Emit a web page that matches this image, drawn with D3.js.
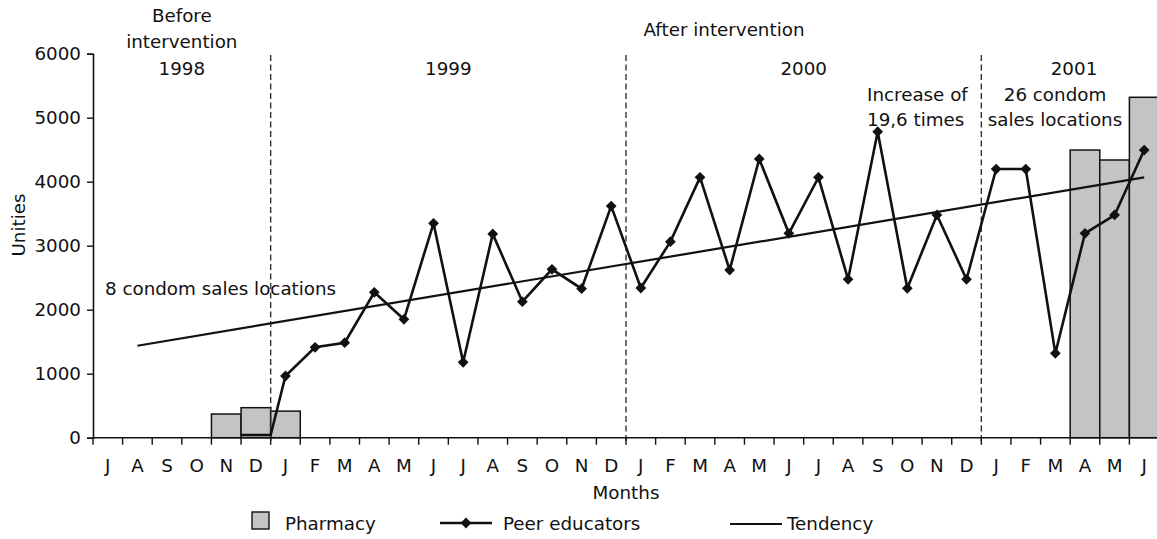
<!DOCTYPE html>
<html>
<head>
<meta charset="utf-8">
<script src="https://cdn.jsdelivr.net/npm/d3@7"></script>
<style>
  body { margin: 0; background: #fff; }
  svg { display: block; font-family: "DejaVu Sans", sans-serif; }
  text { fill: #111; }
</style>
</head>
<body>
<svg id="plot" width="1157" height="539"></svg>
<script>
// month keys and the letters shown under the axis
const monthKeys = [
  "1998-07","1998-08","1998-09","1998-10","1998-11","1998-12",
  "1999-01","1999-02","1999-03","1999-04","1999-05","1999-06",
  "1999-07","1999-08","1999-09","1999-10","1999-11","1999-12",
  "2000-01","2000-02","2000-03","2000-04","2000-05","2000-06",
  "2000-07","2000-08","2000-09","2000-10","2000-11","2000-12",
  "2001-01","2001-02","2001-03","2001-04","2001-05","2001-06"
];
const monthLabels = [
  "J","A","S","O","N","D",
  "J","F","M","A","M","J","J","A","S","O","N","D",
  "J","F","M","A","M","J","J","A","S","O","N","D",
  "J","F","M","A","M","J"
];

// Pharmacy bars
const pharmacyMonths = ["1998-11","1998-12","1999-01","2001-04","2001-05","2001-06"];
const pharmacyValues = [370, 469, 415, 4495, 4339, 5319];

// Peer educators line
const peerMonths = monthKeys.slice(5);
const peerValues = [
  42,
  964, 1412, 1484, 2272, 1850, 3350, 1178, 3183, 2125, 2631, 2328, 3620,
  2339, 3063, 4068, 2620, 4355, 3193, 4068, 2474, 4781, 2334, 3480, 2474,
  4198, 4198, 1318, 3193, 3480, 4495
];

// Tendency line end points
const trendMonths = ["1998-08", "2001-06"];
const trendValues = [1437, 4068];

// year boundaries (dashed lines after these months)
const dividerMonths = ["1998-12", "1999-12", "2000-12"];
const yTicks = [0, 1000, 2000, 3000, 4000, 5000, 6000];

const FONT = "DejaVu Sans";
const FS = 18.3;

const svg = d3.select("#plot");
const plotLeft = 93, plotRight = 1159, plotTop = 53.7, plotBottom = 437.7;

const x = d3.scaleBand().domain(monthKeys).range([plotLeft, plotRight]).padding(0);
const y = d3.scaleLinear().domain([0, 6000]).range([plotBottom, plotTop]);
const cx = m => x(m) + x.bandwidth() / 2;

// bars
svg.append("g").selectAll("rect")
  .data(pharmacyMonths.map((m, i) => ({ m: m, v: pharmacyValues[i] })))
  .enter().append("rect")
  .attr("x", d => x(d.m))
  .attr("width", x.bandwidth())
  .attr("y", d => y(d.v))
  .attr("height", d => y(0) - y(d.v))
  .attr("fill", "#c4c4c4")
  .attr("stroke", "#111")
  .attr("stroke-width", 1.5);

// dashed year separators
svg.append("g").selectAll("line")
  .data(dividerMonths)
  .enter().append("line")
  .attr("x1", d => x(d) + x.bandwidth())
  .attr("x2", d => x(d) + x.bandwidth())
  .attr("y1", 55)
  .attr("y2", plotBottom + 7)
  .attr("stroke", "#333")
  .attr("stroke-width", 1.4)
  .attr("stroke-dasharray", "6,3.5");

// axes
const yAxis = svg.append("g")
  .attr("transform", "translate(" + plotLeft + ",0)")
  .call(d3.axisLeft(y).tickValues(yTicks).tickSize(6).tickPadding(6).tickFormat(d3.format("d")));
const xAxis = svg.append("g")
  .attr("transform", "translate(0," + plotBottom + ")")
  .call(d3.axisBottom(x).tickSize(0).tickPadding(21).tickFormat((d, i) => monthLabels[i]));
svg.selectAll(".domain").attr("stroke", "#111").attr("stroke-width", 1.6);
yAxis.selectAll(".tick line").attr("stroke", "#111").attr("stroke-width", 1.4);
yAxis.selectAll("text").attr("font-size", FS).attr("font-family", FONT).attr("fill", "#111");
xAxis.selectAll("text").attr("font-size", FS).attr("font-family", FONT).attr("fill", "#111");
xAxis.select(".domain").attr("d", "M" + plotLeft + ",0H" + plotRight);

// month boundary ticks
svg.append("g").selectAll("line")
  .data(monthKeys)
  .enter().append("line")
  .attr("x1", d => x(d))
  .attr("x2", d => x(d))
  .attr("y1", plotBottom)
  .attr("y2", plotBottom + 7)
  .attr("stroke", "#111")
  .attr("stroke-width", 1.4);

// tendency line
svg.append("path")
  .datum(trendMonths.map((m, i) => [cx(m), y(trendValues[i])]))
  .attr("d", d3.line())
  .attr("fill", "none")
  .attr("stroke", "#111")
  .attr("stroke-width", 2.2);

// peer educators line: the first month sits flat across its band
const peerPts = [];
peerMonths.forEach((m, i) => {
  if (i === 0) {
    peerPts.push([x(m), y(peerValues[i])]);
    peerPts.push([x(m) + x.bandwidth(), y(peerValues[i])]);
  } else {
    peerPts.push([cx(m), y(peerValues[i])]);
  }
});
svg.append("path")
  .datum(peerPts)
  .attr("d", d3.line())
  .attr("fill", "none")
  .attr("stroke", "#111")
  .attr("stroke-width", 2.6)
  .attr("stroke-linejoin", "miter");

const diamond = d3.symbol().type(d3.symbolSquare).size(58);
svg.append("g").selectAll("path")
  .data(peerMonths.slice(1).map((m, i) => ({ m: m, v: peerValues[i + 1] })))
  .enter().append("path")
  .attr("d", diamond)
  .attr("transform", d => "translate(" + cx(d.m) + "," + y(d.v) + ") rotate(45)")
  .attr("fill", "#111");

// text annotations
function label(txt, tx, ty, anchor) {
  svg.append("text")
    .attr("x", tx).attr("y", ty)
    .attr("text-anchor", anchor || "middle")
    .attr("font-size", FS)
    .text(txt);
}
const mid98 = (x("1998-07") + x("1998-12") + x.bandwidth()) / 2;
const mid99 = (x("1999-01") + x("1999-12") + x.bandwidth()) / 2;
const mid00 = (x("2000-01") + x("2000-12") + x.bandwidth()) / 2;
label("Before", mid98, 22);
label("intervention", mid98, 48);
label("1998", mid98, 75);
label("After intervention", 724, 36);
label("1999", mid99, 75);
label("2000", mid00, 75);
label("2001", 1074, 75);
label("26 condom", 1055, 101);
label("sales locations", 1055, 126);
label("Increase of", 867, 101, "start");
label("19,6 times", 867, 126, "start");
label("8 condom sales locations", 105, 295, "start");
label("Months", (plotLeft + plotRight) / 2, 499);

svg.append("text")
  .attr("transform", "translate(25,225) rotate(-90)")
  .attr("text-anchor", "middle")
  .attr("font-size", FS)
  .text("Unities");

// legend
const lg = svg.append("g");
lg.append("rect").attr("x", 252).attr("y", 512).attr("width", 17).attr("height", 17)
  .attr("fill", "#c4c4c4").attr("stroke", "#111").attr("stroke-width", 1.4);
lg.append("text").attr("x", 285).attr("y", 530).attr("font-size", FS).text("Pharmacy");
lg.append("line").attr("x1", 440).attr("x2", 492).attr("y1", 523).attr("y2", 523)
  .attr("stroke", "#111").attr("stroke-width", 2.6);
lg.append("path").attr("d", diamond).attr("transform", "translate(466,523) rotate(45)").attr("fill", "#111");
lg.append("text").attr("x", 503).attr("y", 530).attr("font-size", FS).text("Peer educators");
lg.append("line").attr("x1", 730).attr("x2", 782).attr("y1", 524).attr("y2", 524)
  .attr("stroke", "#111").attr("stroke-width", 2.2);
lg.append("text").attr("x", 787).attr("y", 530).attr("font-size", FS).text("Tendency");
</script>
</body>
</html>
